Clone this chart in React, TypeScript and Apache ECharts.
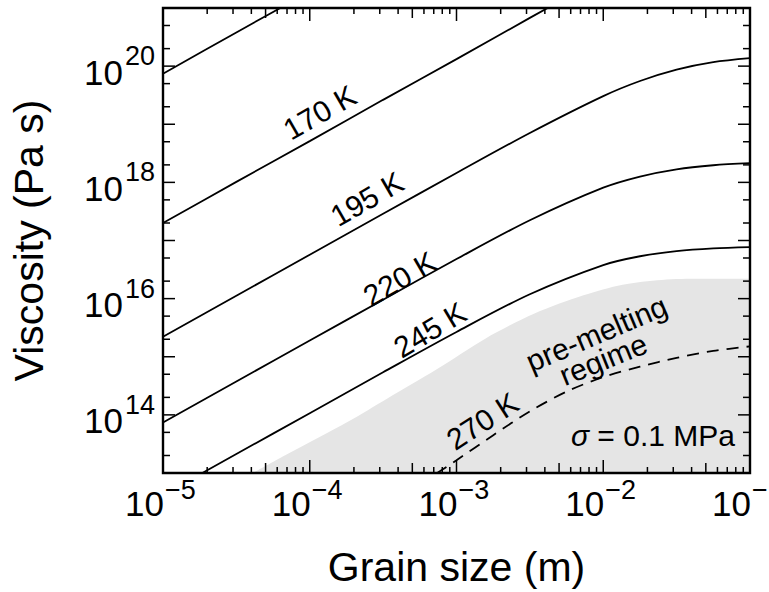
import React, { useEffect, useRef } from "react";
import * as echarts from "echarts";

// Axis extents (log10 axes)
const X_MIN = 1e-5;
const X_MAX = 1e-1;
const Y_MIN = 1e13;
const Y_MAX = 1e21;

// Grain sizes (m) at which the curves were read
const GRAIN = [1e-5, 3.16e-5, 1e-4, 3.16e-4, 1e-3, 3.16e-3, 1e-2, 1.78e-2, 3.16e-2, 5.62e-2, 1e-1];

// Viscosity (Pa s) per temperature
const ETA_145K = [7.41e19, 3.8e20, 1.91e21, null, null, null, null, null, null, null, null];
const ETA_170K = [2.0e17, 1.02e18, 5.13e18, 2.63e19, 1.32e20, 6.76e20, 3.39e21, null, null, null, null];
const ETA_195K = [2.21e15, 1.12e16, 5.69e16, 2.88e17, 1.45e18, 7.08e18, 3.05e19, 5.55e19, 8.71e19, 1.17e20, 1.37e20];
const ETA_220K = [7.4e13, 3.75e14, 1.9e15, 9.59e15, 4.79e16, 2.23e17, 8.11e17, 1.26e18, 1.68e18, 1.97e18, 2.14e18];
const ETA_245K = [4.18e12, 2.12e13, 1.07e14, 5.41e14, 2.67e15, 1.19e16, 3.78e16, 5.36e16, 6.58e16, 7.33e16, 7.71e16];

const GRAIN_270K = [5.62e-4, 1e-3, 1.78e-3, 3.16e-3, 5.62e-3, 1e-2, 1.78e-2, 3.16e-2, 5.62e-2, 1e-1];
const ETA_270K = [6.31e12, 1.66e13, 4.47e13, 1.15e14, 2.51e14, 4.47e14, 6.76e14, 9.55e14, 1.26e15, 1.51e15];

// Pre-melting regime boundary
const PREMELT_GRAIN = [4.1e-5, 7.0e-5, 1.83e-4, 3.38e-4, 7.29e-4, 1.57e-3, 3.4e-3, 7.33e-3, 1.355e-2, 2.51e-2, 4.63e-2, 1e-1];
const PREMELT_ETA = [1.0e13, 2.1e13, 7.69e13, 1.92e14, 6.04e14, 2.05e15, 5.53e15, 1.14e16, 1.74e16, 2.1e16, 2.19e16, 2.19e16];

// Ticks
const X_DECADES = [1e-5, 1e-4, 1e-3, 1e-2];
const X_MINOR_MULT = [2, 3, 4, 5, 6, 7, 8, 9];
const Y_DECADES = [1e13, 1e14, 1e15, 1e16, 1e17, 1e18, 1e19, 1e20];
const Y_MINOR_MULT = [2, 5];
const X_LABELS = [1e-5, 1e-4, 1e-3, 1e-2, 1e-1];
const X_LABEL_EXP = ["\u22125", "\u22124", "\u22123", "\u22122", "\u22121"];
const Y_LABELS = [1e14, 1e16, 1e18, 1e20];
const Y_LABEL_EXP = ["14", "16", "18", "20"];

// Annotations
const ANNOT_TEXT = ["170 K", "195 K", "220 K", "245 K", "270 K", "pre-melting", "regime"];
const ANNOT_GRAIN = [1.17e-4, 2.45e-4, 4.1e-4, 6.6e-4, 1.5e-3, 9.0e-3, 1.0e-2];
const ANNOT_ETA = [1.6e19, 5.2e17, 2.2e16, 2.9e15, 7.8e13, 2.5e15, 9.0e14];
const ANNOT_ROT = [30, 30, 30, 31, 33, 23, 22];
const STRESS_TEXT = "= 0.1 MPa";
const STRESS_POS = [2.18e-2, 4.34e13];

const FONT = "'Liberation Sans', Arial, Helvetica, sans-serif";

function pairs(xs: number[], ys: (number | null)[]) {
  return xs.map((x, i) => [x, ys[i]]);
}

export default function App() {
  const ref = useRef<HTMLDivElement>(null);
  useEffect(() => {
    if (!ref.current) return;
    const chart = echarts.init(ref.current, null, { renderer: "svg" });

    const xTicks: number[][] = [];
    X_DECADES.forEach((d) => {
      xTicks.push([d, Y_MIN, 2]);
      X_MINOR_MULT.forEach((m) => xTicks.push([d * m, Y_MIN, m === 5 ? 1 : 0]));
    });
    xTicks.push([X_MAX, Y_MIN, 2]);
    const yTicks: number[][] = [];
    Y_DECADES.forEach((d) => {
      if (d > Y_MIN) yTicks.push([X_MIN, d, 2]);
      Y_MINOR_MULT.forEach((m) => yTicks.push([X_MIN, d * m, 0]));
    });

    const lineSeries = (name: string, data: any[], dashed = false) => ({
      name,
      type: "line",
      data,
      symbol: "none",
      smooth: 0.3,
      clip: true,
      z: 4,
      lineStyle: { color: "#000", width: 1.8, type: dashed ? [12, 8] : "solid" },
    });

    const option: any = {
      animation: false,
      backgroundColor: "#fff",
      grid: { left: 151, top: 8, width: 599, height: 483, show: false },
      xAxis: {
        type: "log",
        logBase: 10,
        min: X_MIN,
        max: X_MAX,
        axisLine: { show: false },
        axisTick: { show: false },
        axisLabel: { show: false },
        splitLine: { show: false },
        name: "Grain size (m)",
        nameLocation: "middle",
        nameGap: 73,
        nameTextStyle: { fontSize: 41, color: "#000", fontFamily: FONT },
      },
      yAxis: {
        type: "log",
        logBase: 10,
        min: Y_MIN,
        max: Y_MAX,
        axisLine: { show: false },
        axisTick: { show: false },
        axisLabel: { show: false },
        splitLine: { show: false },
        name: "Viscosity (Pa s)",
        nameLocation: "middle",
        nameRotate: 90,
        nameGap: 114,
        nameTextStyle: { fontSize: 41, color: "#000", fontFamily: FONT },
      },
      series: [
        {
          name: "pre-melting",
          type: "line",
          data: pairs(PREMELT_GRAIN, PREMELT_ETA),
          symbol: "none",
          smooth: 0.3,
          z: 1,
          lineStyle: { width: 0 },
          areaStyle: { color: "#e5e5e5", opacity: 1, origin: "start" },
        },
        lineSeries("145 K", pairs(GRAIN, ETA_145K)),
        lineSeries("170 K", pairs(GRAIN, ETA_170K)),
        lineSeries("195 K", pairs(GRAIN, ETA_195K)),
        lineSeries("220 K", pairs(GRAIN, ETA_220K)),
        lineSeries("245 K", pairs(GRAIN, ETA_245K)),
        lineSeries("270 K", pairs(GRAIN_270K, ETA_270K), true),
        {
          type: "custom",
          name: "xticks",
          data: xTicks,
          encode: { x: 0, y: 1 },
          z: 6,
          renderItem: (params: any, api: any) => {
            const v = api.value(0);
            const k = api.value(2);
            const b = api.coord([v, Y_MIN]);
            const t = api.coord([v, Y_MAX]);
            const len = k === 2 ? 13 : k === 1 ? 10 : 6;
            const st = { stroke: "#000", lineWidth: 1.5 };
            return {
              type: "group",
              children: [
                { type: "line", shape: { x1: b[0], y1: b[1], x2: b[0], y2: b[1] - len }, style: st },
                { type: "line", shape: { x1: t[0], y1: t[1], x2: t[0], y2: t[1] + len }, style: st },
              ],
            };
          },
        },
        {
          type: "custom",
          name: "yticks",
          data: yTicks,
          encode: { x: 0, y: 1 },
          z: 6,
          renderItem: (params: any, api: any) => {
            const v = api.value(1);
            const k = api.value(2);
            const l = api.coord([X_MIN, v]);
            const r = api.coord([X_MAX, v]);
            const len = k === 2 ? 12 : 7;
            const st = { stroke: "#000", lineWidth: 1.5 };
            return {
              type: "group",
              children: [
                { type: "line", shape: { x1: l[0], y1: l[1], x2: l[0] + len, y2: l[1] }, style: st },
                { type: "line", shape: { x1: r[0], y1: r[1], x2: r[0] - len, y2: r[1] }, style: st },
              ],
            };
          },
        },
        {
          type: "custom",
          name: "xlabels",
          data: X_LABELS.map((v) => [v, Y_MIN]),
          encode: { x: 0, y: 1 },
          z: 6,
          renderItem: (params: any, api: any) => {
            const p = api.coord([api.value(0), Y_MIN]);
            return {
              type: "group",
              children: [
                {
                  type: "text",
                  x: p[0] + 1,
                  y: p[1] + 30,
                  style: { text: "10", font: `35px ${FONT}`, fill: "#000", align: "right", verticalAlign: "middle" },
                },
                {
                  type: "text",
                  x: p[0] + 2,
                  y: p[1] + 17,
                  style: { text: X_LABEL_EXP[params.dataIndex], font: `27px ${FONT}`, fill: "#000", align: "left", verticalAlign: "middle" },
                },
              ],
            };
          },
        },
        {
          type: "custom",
          name: "ylabels",
          data: Y_LABELS.map((v) => [X_MIN, v]),
          encode: { x: 0, y: 1 },
          z: 6,
          renderItem: (params: any, api: any) => {
            const p = api.coord([X_MIN, api.value(1)]);
            return {
              type: "group",
              children: [
                {
                  type: "text",
                  x: p[0] - 40,
                  y: p[1] + 6,
                  style: { text: "10", font: `35px ${FONT}`, fill: "#000", align: "right", verticalAlign: "middle" },
                },
                {
                  type: "text",
                  x: p[0] - 38,
                  y: p[1] - 10,
                  style: { text: Y_LABEL_EXP[params.dataIndex], font: `27px ${FONT}`, fill: "#000", align: "left", verticalAlign: "middle" },
                },
              ],
            };
          },
        },
      ],
    };
    chart.setOption(option);

    const tl = chart.convertToPixel({ gridIndex: 0 }, [X_MIN, Y_MAX]) as number[];
    const br = chart.convertToPixel({ gridIndex: 0 }, [X_MAX, Y_MIN]) as number[];
    const annots: any[] = ANNOT_TEXT.map((t, i) => {
      const p = chart.convertToPixel({ gridIndex: 0 }, [ANNOT_GRAIN[i], ANNOT_ETA[i]]) as number[];
      return {
        type: "text",
        x: p[0],
        y: p[1],
        rotation: (ANNOT_ROT[i] * Math.PI) / 180,
        z: 50,
        style: { text: t, font: `30px ${FONT}`, fill: "#000", align: "center", verticalAlign: "middle" },
      };
    });
    const sp = chart.convertToPixel({ gridIndex: 0 }, STRESS_POS) as number[];
    annots.push({
      type: "text",
      x: sp[0],
      y: sp[1],
      rotation: 0,
      z: 50,
      style: {
        text: "{i|\u03c3} " + STRESS_TEXT,
        font: `30px ${FONT}`,
        fill: "#000",
        align: "center",
        verticalAlign: "middle",
        rich: { i: { fontStyle: "italic", fontSize: 30, fontFamily: FONT } },
      },
    });
    chart.setOption({
      graphic: [
        {
          type: "rect",
          z: 100,
          shape: { x: tl[0], y: tl[1], width: br[0] - tl[0], height: br[1] - tl[1] },
          style: { fill: "none", stroke: "#000", lineWidth: 2.4 },
        },
        ...annots,
      ],
    });

    return () => chart.dispose();
  }, []);

  return (
    <div
      ref={ref}
      style={{ position: "fixed", left: 0, top: 0, width: 769, height: 592, background: "#fff" }}
    />
  );
}
